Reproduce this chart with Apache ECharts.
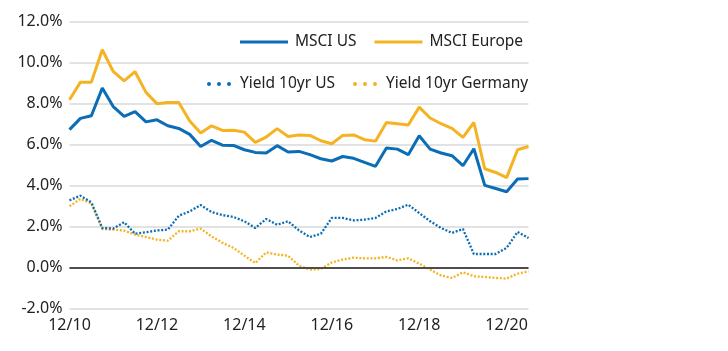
<!DOCTYPE html>
<html>
<head>
<meta charset="utf-8">
<script src="https://cdn.jsdelivr.net/npm/echarts@6/dist/echarts.min.js"></script>
<style>
  html, body { margin: 0; padding: 0; background: #fff; }
  #myChart { width: 728px; height: 351px; }
</style>
</head>
<body>
<div id="myChart"></div>
<script>
// quarterly, 12/10 .. 6/21
var quarters = ['12/10','3/11','6/11','9/11','12/11','3/12','6/12','9/12','12/12','3/13','6/13','9/13',
  '12/13','3/14','6/14','9/14','12/14','3/15','6/15','9/15','12/15','3/16','6/16','9/16',
  '12/16','3/17','6/17','9/17','12/17','3/18','6/18','9/18','12/18','3/19','6/19','9/19',
  '12/19','3/20','6/20','9/20','12/20','3/21','6/21'];

var msciUS = [6.72,7.27,7.40,8.75,7.85,7.37,7.60,7.10,7.20,6.91,6.78,6.49,5.90,6.20,5.96,
  5.95,5.74,5.61,5.58,5.94,5.63,5.66,5.50,5.30,5.19,5.41,5.32,5.12,4.93,
  5.82,5.77,5.50,6.42,5.77,5.58,5.45,4.96,5.79,4.00,3.85,3.69,4.31,4.33];

var msciEurope = [8.18,9.04,9.04,10.62,9.56,9.10,9.55,8.54,7.99,8.05,8.05,7.14,6.56,6.91,6.68,
  6.69,6.60,6.10,6.36,6.77,6.39,6.46,6.44,6.18,6.03,6.44,6.46,6.23,6.16,
  7.07,7.01,6.95,7.82,7.29,7.01,6.78,6.34,7.07,4.81,4.63,4.38,5.74,5.90];

var yieldUS = [3.27,3.50,3.17,1.92,1.89,2.20,1.64,1.71,1.80,1.84,2.52,2.73,3.04,2.70,2.55,
  2.46,2.25,1.92,2.36,2.08,2.25,1.80,1.48,1.64,2.41,2.41,2.29,2.33,2.41,
  2.73,2.85,3.06,2.65,2.25,1.92,1.68,1.87,0.65,0.65,0.65,0.95,1.73,1.43];

var yieldDE = [2.98,3.34,3.11,1.87,1.84,1.79,1.60,1.48,1.35,1.30,1.76,1.76,1.89,1.51,1.20,
  0.95,0.57,0.21,0.73,0.62,0.57,0.08,-0.11,-0.08,0.24,0.38,0.47,0.44,0.44,
  0.51,0.34,0.44,0.18,-0.11,-0.40,-0.52,-0.24,-0.44,-0.47,-0.52,-0.55,-0.31,-0.20];

var yTicks = [-2, 12, 2]; // min, max, step

var blue = '#0b6db5';
var orange = '#f5b323';
var font = 'Noto Sans';
var dots = 'path://M0,2a2,2 0 1,0 4,0a2,2 0 1,0 -4,0M10,2a2,2 0 1,0 4,0a2,2 0 1,0 -4,0M20,2a2,2 0 1,0 4,0a2,2 0 1,0 -4,0';

var myChart = echarts.init(document.getElementById('myChart'));

var option = {
  animation: false,
  textStyle: { fontFamily: font },
  grid: { left: 69.5, right: 199.5, top: 21.5, bottom: 42.7 },
  legend: [
    {
      data: ['MSCI US', 'MSCI Europe'],
      left: 240, top: 34, padding: 0,
      icon: 'rect', itemWidth: 48, itemHeight: 3, itemGap: 18,
      textStyle: { fontFamily: font, fontSize: 15.5, color: '#222', padding: [0, 0, 0, 2] }
    },
    {
      data: ['Yield 10yr US', 'Yield 10yr Germany'],
      left: 207, top: 76, padding: 0,
      icon: dots, itemWidth: 24, itemHeight: 4, itemGap: 18,
      textStyle: { fontFamily: font, fontSize: 15.5, color: '#222', padding: [0, 0, 0, 4] }
    }
  ],
  xAxis: {
    type: 'category',
    data: quarters,
    boundaryGap: false,
    axisLine: { show: false },
    axisTick: { show: false },
    axisLabel: { interval: 7, margin: 9, fontSize: 16, color: '#222', fontFamily: font },
    splitLine: { show: false }
  },
  yAxis: {
    type: 'value',
    min: yTicks[0], max: yTicks[1], interval: yTicks[2],
    axisLine: { show: false },
    axisTick: { show: false },
    axisLabel: {
      margin: 7, fontSize: 16, color: '#222', fontFamily: font,
      formatter: function (v) { return v.toFixed(1) + '%'; }
    },
    splitLine: { lineStyle: { color: '#d9d9d9', width: 1.5 } }
  },
  series: [
    {
      name: 'MSCI US', type: 'line', data: msciUS, symbol: 'none',
      itemStyle: { color: blue },
      lineStyle: { color: blue, width: 3 },
      z: 4,
      markLine: {
        silent: true, symbol: 'none', label: { show: false },
        lineStyle: { color: '#4d4d4d', width: 2, type: 'solid' },
        data: [{ yAxis: 0 }]
      }
    },
    {
      name: 'MSCI Europe', type: 'line', data: msciEurope, symbol: 'none',
      itemStyle: { color: orange },
      lineStyle: { color: orange, width: 3 },
      z: 3
    },
    {
      name: 'Yield 10yr US', type: 'line', data: yieldUS, symbol: 'none',
      itemStyle: { color: blue },
      lineStyle: { color: blue, width: 2.3, type: [2, 1.7] },
      z: 4
    },
    {
      name: 'Yield 10yr Germany', type: 'line', data: yieldDE, symbol: 'none',
      itemStyle: { color: orange },
      lineStyle: { color: orange, width: 2.3, type: [2, 1.7] },
      z: 3
    }
  ]
};

window.onresize = myChart.resize;
myChart.setOption(option);
</script>
</body>
</html>
